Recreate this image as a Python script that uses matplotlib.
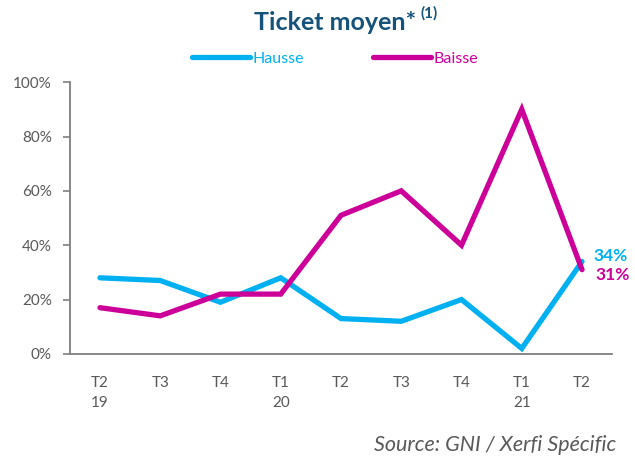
import numpy as np
import matplotlib.pyplot as plt

periods = ["T2\n19", "T3", "T4", "T1\n20", "T2", "T3", "T4", "T1\n21", "T2"]
hausse = [28, 27, 19, 28, 13, 12, 20, 2, 34]
baisse = [17, 14, 22, 22, 51, 60, 40, 90, 31]

plt.rcParams['font.family'] = ['Lato', 'DejaVu Sans']

cyan = '#00B0F0'
magenta = '#CC0099'
grey = '#595959'

fig = plt.figure(figsize=(6.35, 4.59), dpi=100)
ax = fig.add_axes([0.11, 0.229, 0.854, 0.592])

x = np.arange(len(periods))
ax.plot(x, hausse, color=cyan, lw=3.8, solid_capstyle='round', solid_joinstyle='miter', label="Hausse")
ax.plot(x, baisse, color=magenta, lw=3.8, solid_capstyle='round', solid_joinstyle='miter', label="Baisse")

ax.set_xlim(-0.5, len(periods) - 0.5)
ax.set_ylim(0, 100)
ax.set_yticks(range(0, 101, 20))
ax.set_yticklabels([f"{v}%" for v in range(0, 101, 20)])
ax.set_xticks(x)
ax.set_xticklabels(periods, linespacing=1.55)

ax.tick_params(axis='y', colors=grey, labelsize=11, length=5, width=1.2, direction='out', pad=8)
ax.tick_params(axis='y', color='#7F7F7F')
ax.tick_params(axis='x', colors=grey, labelsize=11, length=0, pad=16)
for s in ['top', 'right']:
    ax.spines[s].set_visible(False)
ax.spines['left'].set_color('#7F7F7F')
ax.spines['bottom'].set_color('#7F7F7F')
ax.spines['left'].set_linewidth(1.3)
ax.spines['bottom'].set_linewidth(1.3)

# étiquettes du dernier point
ax.annotate(f"{hausse[-1]}%", (x[-1], hausse[-1]), xytext=(8, 4), textcoords='offset points',
            color=cyan, fontsize=12.5, fontweight='bold', va='center', ha='left')
ax.annotate(f"{baisse[-1]}%", (x[-1], baisse[-1]), xytext=(10, -4), textcoords='offset points',
            color=magenta, fontsize=12.5, fontweight='bold', va='center', ha='left')

fig.text(0.655, 0.952, "Ticket moyen*", ha='right', va='center',
         fontsize=18, fontweight='bold', color='#15537A')
fig.text(0.662, 0.972, "(1)", ha='left', va='center',
         fontsize=11, fontweight='bold', color='#15537A')

leg = fig.legend(loc='center', bbox_to_anchor=(0.528, 0.872), ncol=2, frameon=False,
                 fontsize=11.5, handlelength=3.6, handletextpad=0.2, columnspacing=4.3)
leg.get_texts()[0].set_color(cyan)
leg.get_texts()[1].set_color(magenta)

fig.text(0.97, 0.008, "Source: GNI / Xerfi Spécific", ha='right', va='bottom',
         fontsize=15.5, style='italic', color=grey)

fig.savefig("out.png", dpi=100)
